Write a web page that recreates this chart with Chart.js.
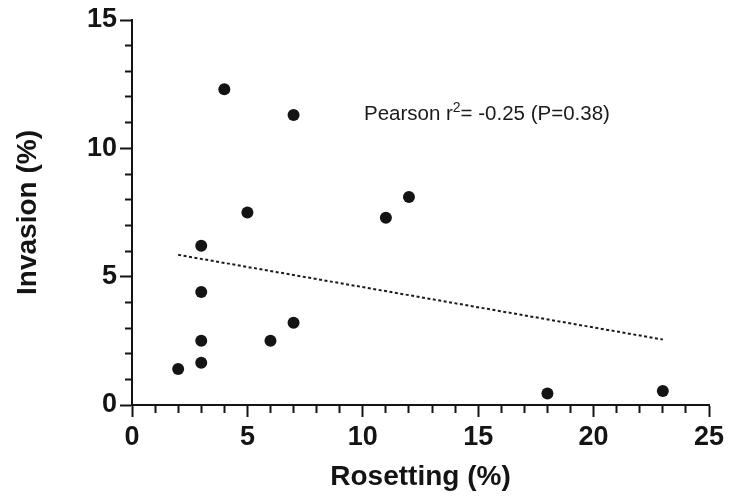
<!DOCTYPE html>
<html lang="en">
<head>
<meta charset="UTF-8">
<title>Rosetting vs Invasion</title>
<style>
  * { margin: 0; padding: 0; }
  body { background: #fff; }
  .chartBox { width: 729px; height: 497px; position: relative; }
</style>
</head>
<body>
<div class="chartBox">
  <canvas id="myChart"></canvas>
</div>

<script src="https://cdn.jsdelivr.net/npm/chart.js"></script>
<script>
// data
const rosetting = [2, 3, 3, 3, 3, 4, 5, 6, 7, 7, 11, 12, 18, 23];
const invasion  = [1.4, 1.65, 2.5, 4.4, 6.2, 12.3, 7.5, 2.5, 11.3, 3.2, 7.3, 8.1, 0.45, 0.55];

// dotted regression line end points
const fitX = [2, 23];
const fitY = [5.85, 2.55];

const xTicks = [0, 5, 10, 15, 20, 25];
const yTicks = [0, 5, 10, 15];

const noteText = ['Pearson r', '2', '= -0.25 (P=0.38)'];

const font = "'Liberation Sans', Arial, sans-serif";
const ink = '#141414';

const points = rosetting.map((x, i) => ({ x: x, y: invasion[i] }));
const fitLine = fitX.map((x, i) => ({ x: x, y: fitY[i] }));

// major ticks full length, minor ticks shorter (dash trick)
function tickDash(list, inner) {
  return function (ctx) {
    if (!ctx.tick || list.includes(ctx.tick.value)) return [];
    return inner ? [0, 5, 7, 30] : [7, 30];
  };
}

// the Pearson note, placed in data units
const notePlugin = {
  id: 'note',
  afterDraw(chart) {
    const c = chart.ctx;
    const xs = chart.scales.x, ys = chart.scales.y;
    let x = xs.getPixelForValue(10.05);
    const y = ys.getPixelForValue(11.1);
    c.save();
    c.fillStyle = '#1a1a1a';
    c.textBaseline = 'alphabetic';
    c.font = '20.5px ' + font;
    c.fillText(noteText[0], x, y);
    x += c.measureText(noteText[0]).width;
    c.font = '14px ' + font;
    c.fillText(noteText[1], x, y - 8);
    x += c.measureText(noteText[1]).width;
    c.font = '20.5px ' + font;
    c.fillText(noteText[2], x, y);
    c.restore();
  }
};

const data = {
  datasets: [
    {
      data: points,
      backgroundColor: ink,
      borderWidth: 0,
      pointRadius: 6
    },
    {
      type: 'line',
      data: fitLine,
      borderColor: '#1a1a1a',
      borderWidth: 2,
      borderDash: [3, 2.5],
      pointRadius: 0,
      fill: false
    }
  ]
};

const config = {
  type: 'scatter',
  data,
  options: {
    responsive: true,
    maintainAspectRatio: false,
    animation: false,
    layout: { padding: { top: 20, right: 20, left: 0, bottom: 0 } },
    plugins: {
      legend: { display: false },
      tooltip: { enabled: false }
    },
    scales: {
      x: {
        type: 'linear',
        min: 0,
        max: 25,
        afterFit(scale) { scale.height = 92; },
        border: { color: ink, width: 2 },
        grid: {
          drawOnChartArea: false,
          tickLength: 12,
          tickWidth: 2,
          tickColor: ink,
          tickBorderDash: tickDash(xTicks, false)
        },
        ticks: {
          stepSize: 1,
          autoSkip: false,
          maxRotation: 0,
          padding: 4,
          color: ink,
          font: { family: font, size: 27, weight: 'bold' },
          callback: v => xTicks.includes(v) ? v : ''
        },
        title: {
          display: true,
          text: 'Rosetting (%)',
          color: ink,
          font: { family: font, size: 28, weight: 'bold' },
          padding: { top: 0, bottom: 3 }
        }
      },
      y: {
        min: 0,
        max: 15,
        afterFit(scale) { scale.width = 132; },
        border: { color: ink, width: 2 },
        grid: {
          drawOnChartArea: false,
          tickLength: 12,
          tickWidth: 2,
          tickColor: ink,
          tickBorderDash: tickDash(yTicks, true)
        },
        ticks: {
          stepSize: 1,
          autoSkip: false,
          padding: 3,
          color: ink,
          font: { family: font, size: 27, weight: 'bold' },
          callback: v => yTicks.includes(v) ? v : ''
        },
        title: {
          display: true,
          text: 'Invasion (%)',
          color: ink,
          font: { family: font, size: 28, weight: 'bold' },
          padding: { top: 11, bottom: 0 }
        }
      }
    }
  },
  plugins: [notePlugin]
};

const myChart = new Chart(document.getElementById('myChart'), config);
</script>
</body>
</html>
